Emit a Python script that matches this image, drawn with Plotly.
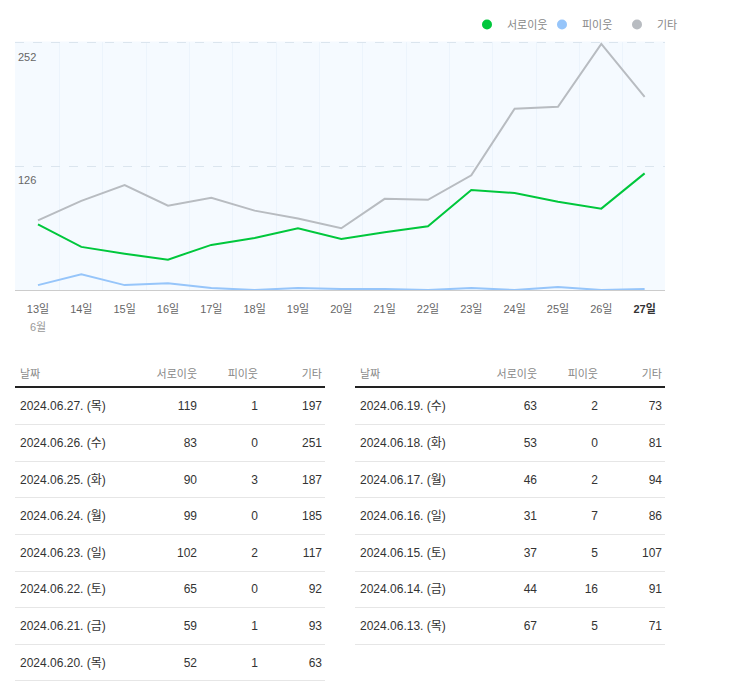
import plotly.graph_objects as go

# ---------------- data ----------------
days = ["13일", "14일", "15일", "16일", "17일", "18일", "19일", "20일",
        "21일", "22일", "23일", "24일", "25일", "26일", "27일"]
dates = ["2024.06.13. (목)", "2024.06.14. (금)", "2024.06.15. (토)", "2024.06.16. (일)",
         "2024.06.17. (월)", "2024.06.18. (화)", "2024.06.19. (수)", "2024.06.20. (목)",
         "2024.06.21. (금)", "2024.06.22. (토)", "2024.06.23. (일)", "2024.06.24. (월)",
         "2024.06.25. (화)", "2024.06.26. (수)", "2024.06.27. (목)"]
seoro = [67, 44, 37, 31, 46, 53, 63, 52, 59, 65, 102, 99, 90, 83, 119]
pi = [5, 16, 5, 7, 2, 0, 2, 1, 1, 0, 2, 0, 3, 0, 1]
gita = [71, 91, 107, 86, 94, 81, 73, 63, 93, 92, 117, 185, 187, 251, 197]
series_names = ["서로이웃", "피이웃", "기타"]
month_label = "6월"
y_ticks = [126, 252]
headers = ["날짜", "서로이웃", "피이웃", "기타"]

# ---------------- style ----------------
W, H = 743, 693
FONT = "Arial, 'Liberation Sans', 'Noto Sans CJK KR', sans-serif"
colors = ["#00c73c", "#96c5fa", "#b8bcc1"]

fig = go.Figure()

xs = list(range(len(days)))
for name, vals, col in zip(series_names, [seoro, pi, gita], colors):
    fig.add_trace(go.Scatter(x=xs, y=vals, mode="lines", name=name,
                             line=dict(color=col, width=2), showlegend=False,
                             xaxis="x", yaxis="y"))
# legend entries (dots)
for name, col in zip(series_names, colors):
    fig.add_trace(go.Scatter(x=[None], y=[None], mode="markers", name=name,
                             marker=dict(color=col, size=10), showlegend=True,
                             xaxis="x", yaxis="y"))

ticktext = days[:-1] + ["<b><span style='color:#333'>" + days[-1] + "</span></b>"]

y_px_per = (290 - 43) / 252.0
y_top = 253.5
layout = dict(
    width=W, height=H, margin=dict(l=0, r=0, t=0, b=0),
    paper_bgcolor="white", plot_bgcolor="rgba(0,0,0,0)",
    font=dict(family=FONT, size=11, color="#666"),
    xaxis=dict(domain=[15 / W, 665 / W], range=[-0.53, 14.47],
               tickvals=xs, ticktext=ticktext, showgrid=False, zeroline=False,
               showline=True, linecolor="#cccccc", linewidth=1,
               ticks="", ticklabelstandoff=9,
               tickfont=dict(size=11, color="#666"),
               minor=dict(tick0=0.5, dtick=1, showgrid=True,
                          gridcolor="#ecf4fc", gridwidth=1, ticks="")),
    yaxis=dict(domain=[1 - 290 / H, 1 - (290 - y_top * y_px_per) / H], range=[0, y_top],
               tickvals=y_ticks, showgrid=True, gridcolor="#dbe5ee",
               griddash="dash", gridwidth=1, zeroline=False,
               ticklabelposition="inside", ticklabelshift=14, ticks="",
               tickfont=dict(size=11, color="#666")),
    showlegend=True,
    legend=dict(orientation="h", x=467 / W, xanchor="left", y=1 - 10 / H,
                yanchor="top", font=dict(size=11, color="#888"),
                itemwidth=30, bgcolor="rgba(0,0,0,0)",
                entrywidth=30, entrywidthmode="pixels"),
    annotations=[dict(x=0, xref="x", y=1 - 319 / H, yref="paper", text=month_label,
                      showarrow=False, xanchor="center", yanchor="top",
                      font=dict(size=11, color="#999"))],
    shapes=[dict(type="rect", xref="x domain", yref="y domain", x0=0, x1=1, y0=0, y1=1,
                 fillcolor="#f5faff", line=dict(width=0), layer="below")],
)

# ---------------- tables ----------------
row_h = 36.6
row0 = 407.5
top_val, bot_val = -1.3, 7.8
tdomain = [1 - (row0 + bot_val * row_h) / H, 1 - (row0 + top_val * row_h) / H]
col_x = [5, 182, 243, 307]
table_w = 310

rev = list(range(len(dates)))[::-1]
left_idx = rev[:8]
right_idx = rev[8:]

for k, (idx, xl) in enumerate([(left_idx, 15), (right_idx, 355)]):
    ax = "x%d" % (k + 2)
    ay = "y%d" % (k + 2)
    n = len(idx)
    layout["xaxis%d" % (k + 2)] = dict(domain=[xl / W, (xl + table_w) / W], range=[0, table_w],
                                       visible=False, fixedrange=True, anchor=ay)
    layout["yaxis%d" % (k + 2)] = dict(domain=tdomain, range=[bot_val, top_val],
                                       tickvals=[i + 0.47 for i in range(n)],
                                       showticklabels=False, ticks="", showgrid=True,
                                       gridcolor="#e6e6e6", gridwidth=1, zeroline=False,
                                       showline=False, anchor=ax, fixedrange=True)
    rows = list(range(n))
    cols_vals = [[dates[i] for i in idx], [str(seoro[i]) for i in idx],
                 [str(pi[i]) for i in idx], [str(gita[i]) for i in idx]]
    for c, vals in enumerate(cols_vals):
        pos = "middle right" if c == 0 else "middle left"
        fig.add_trace(go.Scatter(x=[col_x[c]] * n, y=rows, text=vals, mode="text",
                                 textposition=pos, textfont=dict(size=12, color="#333"),
                                 showlegend=False, hoverinfo="skip", cliponaxis=False,
                                 xaxis=ax, yaxis=ay))
        fig.add_trace(go.Scatter(x=[col_x[c]], y=[-0.88], text=[headers[c]], mode="text",
                                 textposition=pos, textfont=dict(size=11, color="#888"),
                                 showlegend=False, hoverinfo="skip", cliponaxis=False,
                                 xaxis=ax, yaxis=ay))
    layout["shapes"].append(dict(type="line", xref=ax, yref=ay, x0=0, x1=table_w,
                                 y0=-0.56, y1=-0.56, line=dict(color="#222", width=2)))

fig.update_layout(**layout)
fig.write_html("out.html")
